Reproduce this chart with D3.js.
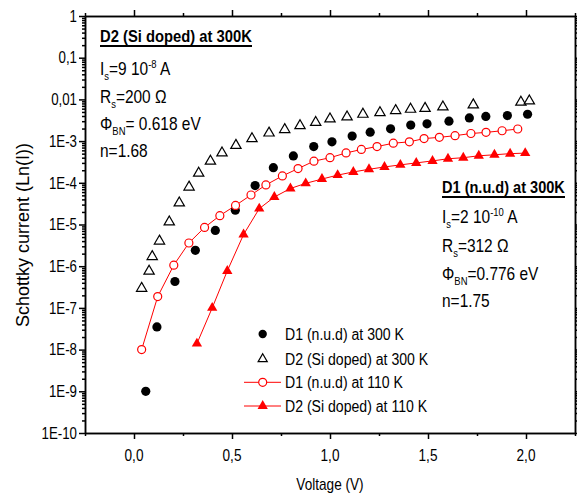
<!DOCTYPE html>
<meta charset="utf-8">
<title>Schottky current vs voltage</title>
<style>

body {
  margin: 0;
  background: #fff;
}

svg {
  font-family: "Liberation Sans", Arial, Helvetica, sans-serif;
}

.axis path,
.axis line {
  stroke: #000;
  stroke-width: 1.5px;
}

.label {
  font-size: 16px;
  fill: #000;
}

</style>
<svg width="577" height="496"></svg>
<script src="https://d3js.org/d3.v7.min.js"></script>
<script>

// D1 (n.u.d) at 300 K : filled black circles
var v_d1_300 = [0.060, 0.117, 0.209, 0.313, 0.415, 0.517, 0.618, 0.711, 0.813, 0.917, 1.010,
                1.113, 1.205, 1.309, 1.412, 1.495, 1.607, 1.711, 1.795, 1.905, 2.008];
var i_d1_300 = [1.0e-9, 3.5e-8, 4.3e-7, 2.4e-6, 7.2e-6, 2.2e-5, 8.6e-5, 2.3e-4, 4.4e-4, 7.4e-4, 9.6e-4,
                1.32e-3, 1.64e-3, 1.97e-3, 2.42e-3, 2.6e-3, 3.0e-3, 3.6e-3, 3.9e-3, 4.1e-3, 4.4e-3];

// D2 (Si doped) at 300 K : open black triangles
var v_d2_300 = [0.039, 0.077, 0.093, 0.130, 0.180, 0.231, 0.281, 0.330, 0.390, 0.449, 0.520, 0.602, 0.689, 0.769,
                0.847, 0.927, 1.000, 1.087, 1.168, 1.255, 1.335, 1.411, 1.485, 1.576, 1.731, 1.974, 2.017];
var i_d2_300 = [2.95e-7, 7.6e-7, 1.7e-6, 4.0e-6, 1.15e-5, 3.3e-5, 7.9e-5, 1.7e-4, 3.3e-4, 5.2e-4, 7.9e-4, 1.14e-3, 1.56e-3, 1.89e-3,
                2.35e-3, 2.8e-3, 3.4e-3, 3.8e-3, 4.4e-3, 4.8e-3, 5.4e-3, 5.8e-3, 6.1e-3, 6.6e-3, 7.4e-3, 8.6e-3, 9.2e-3];

// D1 (n.u.d) at 110 K : open red circles + line
var v_d1_110 = [0.039, 0.121, 0.203, 0.280, 0.360, 0.438, 0.518, 0.597, 0.673, 0.757, 0.837, 0.918, 1.000,
                1.082, 1.160, 1.240, 1.323, 1.405, 1.480, 1.558, 1.638, 1.719, 1.796, 1.878, 1.958];
var i_d1_110 = [1.0e-8, 1.87e-7, 1.06e-6, 3.6e-6, 8.5e-6, 1.63e-5, 2.86e-5, 5.1e-5, 8.9e-5, 1.46e-4, 2.19e-4, 3.3e-4, 4.0e-4,
                5.2e-4, 6.3e-4, 7.4e-4, 8.9e-4, 9.6e-4, 1.15e-3, 1.23e-3, 1.35e-3, 1.52e-3, 1.62e-3, 1.77e-3, 1.95e-3];

// D2 (Si doped) at 110 K : filled red triangles + line
var v_d2_110 = [0.321, 0.399, 0.476, 0.559, 0.639, 0.716, 0.798, 0.876, 0.959, 1.039, 1.119,
                1.199, 1.278, 1.359, 1.440, 1.523, 1.602, 1.680, 1.759, 1.839, 1.919, 1.996];
var i_d2_110 = [1.39e-8, 1.0e-7, 7.7e-7, 5.75e-6, 2.4e-5, 4.56e-5, 7.3e-5, 9.7e-5, 1.23e-4, 1.53e-4, 1.82e-4,
                2.11e-4, 2.4e-4, 2.69e-4, 3.0e-4, 3.35e-4, 3.77e-4, 4.0e-4, 4.44e-4, 4.7e-4, 5.0e-4, 5.15e-4];

var seriesNames = ["D1 (n.u.d) at 300 K", "D2 (Si doped) at 300 K", "D1 (n.u.d) at 110 K", "D2 (Si doped) at 110 K"];

var xTicks = [0, 0.5, 1, 1.5, 2];
var xMinor = [-0.25, 0.25, 0.75, 1.25, 1.75, 2.25];
var xLabels = ["0,0", "0,5", "1,0", "1,5", "2,0"];
var yTicks = [1, 0.1, 0.01, 1e-3, 1e-4, 1e-5, 1e-6, 1e-7, 1e-8, 1e-9, 1e-10];
var yLabels = ["1", "0,1", "0,01", "1E-3", "1E-4", "1E-5", "1E-6", "1E-7", "1E-8", "1E-9", "1E-10"];

// annotation boxes: [text, kind]
var noteD2 = [[["I", "n"], ["s", "sub"], ["=9 10", "n"], ["-8", "sup"], [" A", "n"]],
              [["R", "n"], ["s", "sub"], ["=200 \u03A9", "n"]],
              [["\u03A6", "n"], ["BN", "sub"], ["= 0.618 eV", "n"]],
              [["n=1.68", "n"]]];
var noteD1 = [[["I", "n"], ["s", "sub"], ["=2 10", "n"], ["-10", "sup"], [" A", "n"]],
              [["R", "n"], ["s", "sub"], ["=312 \u03A9", "n"]],
              [["\u03A6", "n"], ["BN", "sub"], ["=0.776 eV", "n"]],
              [["n=1.75", "n"]]];

var svg = d3.select("svg"),
    plotL = 85, plotR = 575, plotT = 16, plotB = 433;

var x = d3.scaleLinear().domain([-0.25, 2.25]).range([plotL, plotR]);
var y = d3.scaleLog().domain([1e-10, 1]).range([plotB, plotT]);

// minor log ticks 2..9 per decade
var yMinor = [];
yTicks.slice(1).forEach(function(d) {
  for (var k = 2; k < 10; k++) yMinor.push(d * k);
});

// squeeze text horizontally (the original font is a narrow one)
function squeeze(sel, k) {
  sel.each(function() {
    var w = this.getComputedTextLength();
    d3.select(this).attr("textLength", w * k).attr("lengthAdjust", "spacingAndGlyphs");
  });
}

// ---- axes / frame
function drawAxis(axis, tx, ty) {
  svg.append("g").attr("class", "axis")
    .attr("transform", "translate(" + tx + "," + ty + ")")
    .call(axis)
    .call(function(g) { g.selectAll("text").remove(); });
}

drawAxis(d3.axisBottom(x).tickValues(xTicks).tickSize(6).tickSizeOuter(0), 0, plotB);
drawAxis(d3.axisBottom(x).tickValues(xMinor).tickSize(3).tickSizeOuter(0), 0, plotB);
drawAxis(d3.axisTop(x).tickValues(xTicks).tickSize(6).tickSizeOuter(0), 0, plotT);
drawAxis(d3.axisTop(x).tickValues(xMinor).tickSize(3).tickSizeOuter(0), 0, plotT);
drawAxis(d3.axisLeft(y).tickValues(yTicks).tickSize(6).tickSizeOuter(0), plotL, 0);
drawAxis(d3.axisLeft(y).tickValues(yMinor).tickSize(3).tickSizeOuter(0), plotL, 0);
drawAxis(d3.axisRight(y).tickValues(yTicks).tickSize(6).tickSizeOuter(0), plotR, 0);
drawAxis(d3.axisRight(y).tickValues(yMinor).tickSize(3).tickSizeOuter(0), plotR, 0);

// tick labels
svg.append("g").selectAll("text")
  .data(xTicks)
  .enter().append("text")
    .attr("class", "label")
    .attr("text-anchor", "middle")
    .attr("x", function(d) { return x(d); })
    .attr("y", 461)
    .text(function(d, i) { return xLabels[i]; })
    .call(squeeze, 0.85);

svg.append("g").selectAll("text")
  .data(yTicks)
  .enter().append("text")
    .attr("class", "label")
    .attr("text-anchor", "end")
    .attr("x", 77)
    .attr("y", function(d) { return y(d); })
    .attr("dy", "0.36em")
    .text(function(d, i) { return yLabels[i]; })
    .call(squeeze, 0.83);

// axis titles
svg.append("text")
  .attr("class", "label")
  .attr("text-anchor", "middle")
  .attr("x", 330)
  .attr("y", 490)
  .style("font-size", "17px")
  .text("Voltage (V)")
  .call(squeeze, 0.8);

svg.append("text")
  .attr("class", "label")
  .attr("text-anchor", "middle")
  .attr("transform", "translate(29,235) rotate(-90)")
  .style("font-size", "18px")
  .text("Schottky current (Ln(I))");

// ---- data
function pts(v, c) { return v.map(function(d, i) { return [d, c[i]]; }); }

var line = d3.line()
    .x(function(d) { return x(d[0]); })
    .y(function(d) { return y(d[1]); });

var tri = d3.symbol().type(d3.symbolTriangle).size(46);

svg.append("path")
  .datum(pts(v_d1_110, i_d1_110))
  .attr("d", line)
  .attr("fill", "none")
  .attr("stroke", "#f00")
  .attr("stroke-width", 1);

svg.append("path")
  .datum(pts(v_d2_110, i_d2_110))
  .attr("d", line)
  .attr("fill", "none")
  .attr("stroke", "#f00")
  .attr("stroke-width", 1);

svg.append("g").selectAll("circle")
  .data(pts(v_d1_300, i_d1_300))
  .enter().append("circle")
    .attr("cx", function(d) { return x(d[0]); })
    .attr("cy", function(d) { return y(d[1]); })
    .attr("r", 4.6)
    .attr("fill", "#000");

svg.append("g").selectAll("path")
  .data(pts(v_d2_300, i_d2_300))
  .enter().append("path")
    .attr("transform", function(d) { return "translate(" + x(d[0]) + "," + y(d[1]) + ")"; })
    .attr("d", tri)
    .attr("fill", "#fff")
    .attr("stroke", "#000")
    .attr("stroke-width", 1.2);

svg.append("g").selectAll("circle")
  .data(pts(v_d1_110, i_d1_110))
  .enter().append("circle")
    .attr("cx", function(d) { return x(d[0]); })
    .attr("cy", function(d) { return y(d[1]); })
    .attr("r", 4)
    .attr("fill", "#fff")
    .attr("stroke", "#f00")
    .attr("stroke-width", 1.2);

svg.append("g").selectAll("path")
  .data(pts(v_d2_110, i_d2_110))
  .enter().append("path")
    .attr("transform", function(d) { return "translate(" + x(d[0]) + "," + y(d[1]) + ")"; })
    .attr("d", tri)
    .attr("fill", "#f00");

// ---- legend
var legend = svg.append("g");
var ly = [334, 359, 382.3, 406];

legend.append("circle").attr("cx", 262.7).attr("cy", ly[0]).attr("r", 4.2).attr("fill", "#000");
legend.append("path").attr("transform", "translate(262.7," + ly[1] + ")").attr("d", tri.size(36))
  .attr("fill", "#fff").attr("stroke", "#000").attr("stroke-width", 1.2);
legend.append("line").attr("x1", 244).attr("x2", 281).attr("y1", ly[2]).attr("y2", ly[2]).attr("stroke", "#f00");
legend.append("circle").attr("cx", 262.7).attr("cy", ly[2]).attr("r", 4)
  .attr("fill", "#fff").attr("stroke", "#f00").attr("stroke-width", 1.2);
legend.append("line").attr("x1", 244).attr("x2", 281).attr("y1", ly[3]).attr("y2", ly[3]).attr("stroke", "#f00");
legend.append("path").attr("transform", "translate(262.7," + ly[3] + ")").attr("d", tri.size(46)).attr("fill", "#f00");

legend.selectAll("text")
  .data(seriesNames)
  .enter().append("text")
    .attr("class", "label")
    .attr("x", 285)
    .attr("y", function(d, i) { return ly[i] + 5.6; })
    .text(function(d) { return d; })
    .call(squeeze, 0.88);

// ---- annotations
function title(txt, x0, y0, w) {
  var g = svg.append("g");
  var t = g.append("text")
    .attr("class", "label")
    .style("font-size", "17px")
    .style("font-weight", "bold")
    .text(txt);
  var k = w / t.node().getComputedTextLength();
  g.attr("transform", "translate(" + x0 + "," + y0 + ") scale(" + k + ",1)");
  svg.append("line")
    .attr("x1", x0).attr("x2", x0 + w)
    .attr("y1", y0 + 4.5).attr("y2", y0 + 4.5)
    .attr("stroke", "#000").attr("stroke-width", 1.8);
}

function note(rows, x0, ys, k) {
  rows.forEach(function(parts, r) {
    var t = svg.append("g")
      .attr("transform", "translate(" + x0 + "," + ys[r] + ") scale(" + k + ",1)")
      .append("text")
      .attr("class", "label")
      .style("font-size", "18px");
    var shift = 0;
    parts.forEach(function(p) {
      var s = p[1] === "sub" ? 5 : p[1] === "sup" ? -7 : 0;
      t.append("tspan")
        .attr("dy", s - shift)
        .style("font-size", p[1] === "n" ? "18px" : "11px")
        .text(p[0]);
      shift = s;
    });
  });
}

title("D2 (Si doped) at 300K", 100, 41.5, 152);
note(noteD2, 100, [75, 103.3, 130, 156.7], 0.86);

title("D1 (n.u.d) at 300K", 442, 192.5, 123);
note(noteD1, 442, [223.3, 252.3, 280, 306.7], 0.86);

</script>
